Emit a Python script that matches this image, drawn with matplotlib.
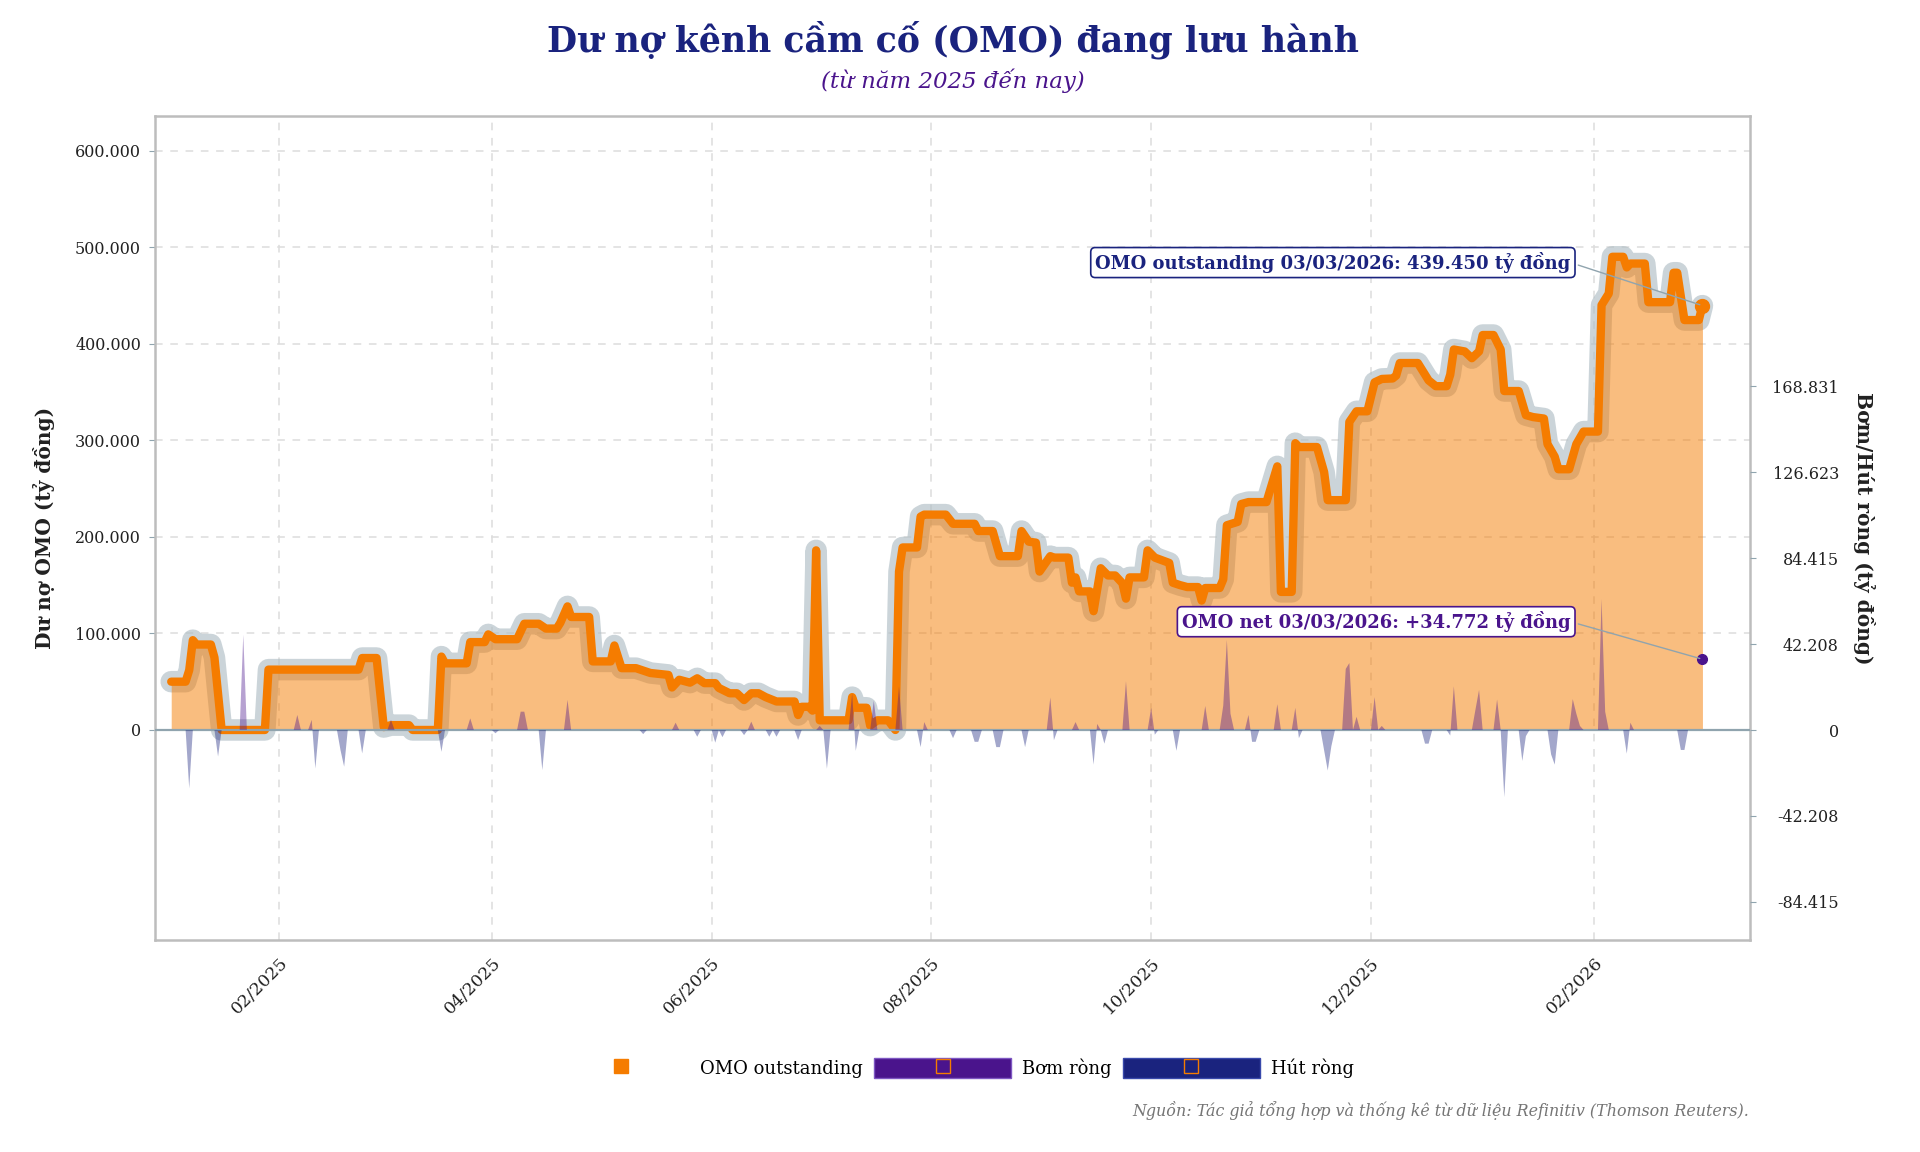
import numpy as np
import pandas as pd
import matplotlib
matplotlib.use("Agg")
import matplotlib.pyplot as plt
import matplotlib.dates as mdates
from matplotlib.lines import Line2D
from matplotlib.patches import Patch
from matplotlib.legend_handler import HandlerTuple

ORANGE = "#F57C00"
PURPLE = "#4A148C"
NAVY = "#1A237E"
HALO = "#B0BEC5"
AXIS_BLUE = "#90A4AE"

# OMO outstanding (ty dong), read at the turning points of the line
omo_dates = [
    "2025-01-02", "2025-01-06", "2025-01-07", "2025-01-08", "2025-01-09", "2025-01-13", "2025-01-14",
    "2025-01-16", "2025-01-28", "2025-01-29", "2025-02-23", "2025-02-24", "2025-02-28", "2025-03-02",
    "2025-03-04", "2025-03-09", "2025-03-10", "2025-03-17", "2025-03-18", "2025-03-19", "2025-03-25",
    "2025-03-26", "2025-03-30", "2025-03-31", "2025-04-02", "2025-04-08", "2025-04-10", "2025-04-14",
    "2025-04-16", "2025-04-19", "2025-04-20", "2025-04-22", "2025-04-23", "2025-04-28", "2025-04-29",
    "2025-05-04", "2025-05-05", "2025-05-07", "2025-05-11", "2025-05-15", "2025-05-20", "2025-05-21",
    "2025-05-23", "2025-05-26", "2025-05-28", "2025-05-30", "2025-06-02", "2025-06-03", "2025-06-06",
    "2025-06-08", "2025-06-10", "2025-06-12", "2025-06-14", "2025-06-16", "2025-06-19", "2025-06-24",
    "2025-06-25", "2025-06-26", "2025-06-28", "2025-06-29", "2025-06-30", "2025-07-01", "2025-07-09",
    "2025-07-10", "2025-07-11", "2025-07-14", "2025-07-15", "2025-07-17", "2025-07-20", "2025-07-22",
    "2025-07-23", "2025-07-24", "2025-07-28", "2025-07-29", "2025-07-30", "2025-08-05", "2025-08-07",
    "2025-08-13", "2025-08-14", "2025-08-18", "2025-08-20", "2025-08-25", "2025-08-26", "2025-08-28",
    "2025-08-30", "2025-08-31", "2025-09-03", "2025-09-04", "2025-09-08", "2025-09-09", "2025-09-10",
    "2025-09-11", "2025-09-14", "2025-09-15", "2025-09-17", "2025-09-19", "2025-09-21", "2025-09-23",
    "2025-09-24", "2025-09-25", "2025-09-29", "2025-09-30", "2025-10-02", "2025-10-06", "2025-10-07",
    "2025-10-09", "2025-10-11", "2025-10-14", "2025-10-15", "2025-10-16", "2025-10-20", "2025-10-21",
    "2025-10-22", "2025-10-25", "2025-10-26", "2025-10-28", "2025-11-02", "2025-11-05", "2025-11-06",
    "2025-11-09", "2025-11-10", "2025-11-11", "2025-11-16", "2025-11-18", "2025-11-19", "2025-11-24",
    "2025-11-25", "2025-11-27", "2025-11-30", "2025-12-02", "2025-12-04", "2025-12-07", "2025-12-08",
    "2025-12-09", "2025-12-14", "2025-12-17", "2025-12-19", "2025-12-22", "2025-12-23", "2025-12-24",
    "2025-12-27", "2025-12-29", "2025-12-31", "2026-01-01", "2026-01-04", "2026-01-06", "2026-01-07",
    "2026-01-11", "2026-01-13", "2026-01-15", "2026-01-18", "2026-01-19", "2026-01-21", "2026-01-22",
    "2026-01-25", "2026-01-27", "2026-01-29", "2026-02-02", "2026-02-03", "2026-02-05", "2026-02-06",
    "2026-02-09", "2026-02-10", "2026-02-11", "2026-02-15", "2026-02-16", "2026-02-22", "2026-02-23",
    "2026-02-24", "2026-02-26", "2026-03-02", "2026-03-03",
]
omo_values = [
    50000, 50000, 62000, 93000, 88500, 88500, 75000,
    0, 0, 62500, 62500, 74500, 74500, 3000,
    5000, 5000, 0, 0, 76000, 69000, 69000,
    91000, 91000, 99000, 94000, 94000, 110000, 110000,
    105000, 105000, 111000, 128000, 117000, 117000, 71000,
    71000, 87500, 64000, 64000, 59000, 57000, 44000,
    52000, 49000, 53500, 48500, 48500, 43500, 38000,
    38000, 31000, 38000, 38000, 34000, 29500, 29500,
    15500, 24000, 24000, 20000, 186000, 10000, 10000,
    34000, 23000, 23000, 4500, 10000, 10000, 0,
    164000, 189000, 189000, 221000, 223000, 223000, 213500,
    213500, 206000, 206000, 180000, 180000, 206000, 195000,
    194000, 164000, 180000, 178500, 178500, 152500, 158000,
    143500, 143500, 123000, 167500, 160000, 160000, 152000,
    136000, 158000, 158000, 186000, 178500, 173000, 152500,
    150000, 148000, 148000, 134000, 147000, 147000, 156000,
    212000, 215500, 234000, 236000, 236000, 273000, 143000,
    143000, 297000, 293000, 293000, 267000, 238000, 238000,
    319000, 330000, 330000, 360000, 363500, 364000, 367000,
    380000, 380000, 362000, 356000, 356000, 368000, 394000,
    392000, 385000, 392000, 409000, 409000, 394000, 351000,
    351000, 326000, 324000, 322500, 296000, 283000, 270000,
    270000, 296000, 309000, 309000, 440000, 452000, 490000,
    490000, 479000, 483000, 483000, 443000, 443000, 473500,
    473500, 424500, 424500, 439450,
]

# Net injection (+) / withdrawal (-) per day (ty dong); other days are 0
net_dates = [
    "2025-01-07", "2025-01-15", "2025-01-22", "2025-02-06", "2025-02-10", "2025-02-11", "2025-02-18",
    "2025-02-19", "2025-02-24", "2025-03-04", "2025-03-18", "2025-03-26", "2025-04-02", "2025-04-09",
    "2025-04-10", "2025-04-15", "2025-04-22", "2025-05-13", "2025-05-22", "2025-05-28", "2025-06-02",
    "2025-06-04", "2025-06-10", "2025-06-12", "2025-06-17", "2025-06-19", "2025-06-25", "2025-07-01",
    "2025-07-03", "2025-07-10", "2025-07-11", "2025-07-16", "2025-07-23", "2025-07-29", "2025-07-30",
    "2025-08-07", "2025-08-13", "2025-08-14", "2025-08-19", "2025-08-20", "2025-08-27", "2025-09-03",
    "2025-09-04", "2025-09-10", "2025-09-15", "2025-09-16", "2025-09-18", "2025-09-24", "2025-10-01",
    "2025-10-02", "2025-10-08", "2025-10-16", "2025-10-21", "2025-10-22", "2025-10-23", "2025-10-28",
    "2025-10-29", "2025-10-30", "2025-11-05", "2025-11-10", "2025-11-11", "2025-11-18", "2025-11-19",
    "2025-11-20", "2025-11-24", "2025-11-25", "2025-11-27", "2025-12-02", "2025-12-04", "2025-12-16",
    "2025-12-17", "2025-12-23", "2025-12-24", "2025-12-30", "2025-12-31", "2026-01-05", "2026-01-07",
    "2026-01-12", "2026-01-13", "2026-01-20", "2026-01-21", "2026-01-26", "2026-01-27", "2026-01-28",
    "2026-02-03", "2026-02-04", "2026-02-10", "2026-02-11", "2026-02-25", "2026-02-26", "2026-03-03",
]
net_values = [
    -28700, -13000, 46800, 7400, 5000, -18900, -10000,
    -18000, -11500, 5000, -10700, 5700, -1600, 9000,
    9000, -19700, 14800, -2000, 3600, -3300, -6200,
    -3500, -2500, 4100, -3300, -3300, -4900, 2000,
    -19000, 17900, -10200, 14400, 21400, -8400, 3900,
    -4000, -5800, -5800, -8400, -8400, -8400, 16000,
    -5000, 3900, -17000, 3000, -6700, 24000, 10900,
    -2300, -10200, 11800, 12000, 44300, 8000, 7400,
    -5800, -5800, 12700, 10900, -4000, -10000, -19900,
    -8000, 30000, 32900, 6500, 16200, 2000, -6700,
    -6700, -2700, 21500, 10000, 19700, 15000, -33000,
    -15200, -3000, -12000, -17000, 15200, 8000, 2000,
    64400, 9000, -11600, 3600, -9800, -9800, 34772,
]

left_ticks = [0, 100000, 200000, 300000, 400000, 500000, 600000]
right_ticks = [-84415, -42208, 0, 42208, 84415, 126623, 168831]
x_tick_dates = ["2025-02-01", "2025-04-01", "2025-06-01", "2025-08-01",
                "2025-10-01", "2025-12-01", "2026-02-01"]


def vn_number(v):
    return f"{v:,}".replace(",", ".")


plt.rcParams["font.family"] = ["DejaVu Serif"]

omo_x = pd.to_datetime(omo_dates)
omo_y = np.array(omo_values)

days = pd.date_range(omo_dates[0], omo_dates[-1], freq="D")
net = pd.Series(net_values, index=pd.to_datetime(net_dates)).reindex(days, fill_value=0)
net_area = net.iloc[:-1]  # last value shown only as a dot
last_x = mdates.date2num(days[-1])

fig = plt.figure(figsize=(19.2, 11.52), dpi=100)
ax = fig.add_axes([155 / 1920, 1 - 940 / 1152, 1595 / 1920, 824 / 1152])
ax2 = ax.twinx()

# outstanding: halo, area, line
ax.plot(omo_x, omo_y, color=HALO, lw=15.5, alpha=0.65, solid_joinstyle="round",
        solid_capstyle="round", zorder=2)
ax.fill_between(omo_x, 0, omo_y, color=ORANGE, alpha=0.5, lw=0, zorder=3)
ax.plot(omo_x, omo_y, color=ORANGE, lw=6, solid_joinstyle="round",
        solid_capstyle="round", zorder=4)
ax.plot(omo_x[-1], omo_y[-1], "o", color=ORANGE, ms=10, zorder=5)
ax.axhline(0, color=AXIS_BLUE, lw=1.6, zorder=4.5)

# net injection / withdrawal on right axis
nv = net_area.values
ax2.fill_between(net_area.index, 0, nv, where=nv >= 0, interpolate=True,
                 color=PURPLE, alpha=0.4, lw=0)
ax2.fill_between(net_area.index, 0, nv, where=nv <= 0, interpolate=True,
                 color=NAVY, alpha=0.4, lw=0)
ax2.plot(days[-1], net.iloc[-1], "o", color=PURPLE, ms=7, zorder=5)

# axes limits
x0 = mdates.date2num(pd.Timestamp("2025-01-01"))
ax.set_xlim(x0 - 3.5, x0 + 439.2)
ax.set_ylim(-217500, 635800)
ax2.set_ylim(-103150, 301600)

ax.set_xticks(pd.to_datetime(x_tick_dates))
ax.xaxis.set_major_formatter(mdates.DateFormatter("%m/%Y"))
ax.set_yticks(left_ticks)
ax.set_yticklabels([vn_number(v) for v in left_ticks])
ax2.set_yticks(right_ticks)
ax2.set_yticklabels([vn_number(v) for v in right_ticks])

ax.grid(True, ls=(0, (5, 5)), color="#DDDDDD", lw=1.1)
ax.set_axisbelow(True)

for side in ["left", "right", "top", "bottom"]:
    ax.spines[side].set_color("#BDBDBD")
    ax.spines[side].set_linewidth(1.8)
    ax2.spines[side].set_visible(False)

ax.tick_params(axis="y", length=4, color=AXIS_BLUE, labelsize=11.5, labelcolor="#212121", pad=6)
ax.tick_params(axis="x", length=0, labelsize=12.5, labelcolor="#212121", pad=10)
for lbl in ax.get_xticklabels():
    lbl.set_rotation(45)
    lbl.set_ha("right")
    lbl.set_rotation_mode("anchor")
ax2.tick_params(axis="y", length=4, color=AXIS_BLUE, labelsize=11.5, labelcolor="#212121", pad=60)
for lbl in ax2.get_yticklabels():
    lbl.set_ha("right")

ax.set_ylabel("Dư nợ OMO (tỷ đồng)", fontsize=14.5, fontweight="bold", color="#212121", va="center")
ax.yaxis.set_label_coords((44 - 155) / 1595, 0.5)
ax2.set_ylabel("Bơm/Hút ròng (tỷ đồng)", fontsize=14.5, fontweight="bold", color="#212121",
               rotation=270, va="center")
ax2.yaxis.set_label_coords((1864 - 155) / 1595, 0.5)

# labels for the latest values
ax2.annotate(f"OMO outstanding 03/03/2026: {vn_number(omo_values[-1])} tỷ đồng",
             xy=(last_x, omo_values[-1]), xycoords=ax.transData,
             xytext=(-95, 31), textcoords="offset points", ha="right", va="center",
             fontsize=13, fontweight="bold", color=NAVY,
             bbox=dict(boxstyle="round,pad=0.25", fc="white", ec=NAVY, lw=1.2),
             arrowprops=dict(arrowstyle="-", color=AXIS_BLUE, lw=1, relpos=(1, 0.5)),
             zorder=10)
ax2.annotate(f"OMO net 03/03/2026: +{vn_number(net_values[-1])} tỷ đồng",
             xy=(last_x, net_values[-1]), xycoords="data",
             xytext=(-95, 27), textcoords="offset points", ha="right", va="center",
             fontsize=13, fontweight="bold", color=PURPLE,
             bbox=dict(boxstyle="round,pad=0.25", fc="white", ec=PURPLE, lw=1.2),
             arrowprops=dict(arrowstyle="-", color=AXIS_BLUE, lw=1, relpos=(1, 0.5)),
             zorder=10)

# titles
fig.text(953 / 1920, 1 - 40 / 1152, "Dư nợ kênh cầm cố (OMO) đang lưu hành", ha="center",
         va="center", fontsize=25, fontweight="bold", color=NAVY)
fig.text(953 / 1920, 1 - 81 / 1152, "(từ năm 2025 đến nay)", ha="center", va="center",
         fontsize=16.5, style="italic", color=PURPLE)

# legend
sq = dict(marker="s", ls="none", ms=10, mfc="none", mec=ORANGE, mew=1)
handles = [
    Line2D([], [], marker="s", ls="none", color=ORANGE, ms=10),
    (Patch(fc=PURPLE, ec="#7E57C2", lw=1), Line2D([], [], **sq)),
    (Patch(fc=NAVY, ec="#3949AB", lw=1), Line2D([], [], **sq)),
]
fig.legend(handles, ["OMO outstanding", "Bơm ròng", "Hút ròng"],
           handler_map={tuple: HandlerTuple(ndivide=1, pad=0)},
           loc="center", bbox_to_anchor=(953 / 1920, 1 - 1068 / 1152), ncol=3,
           frameon=False, fontsize=13, handlelength=7.6, handleheight=1.3,
           handletextpad=0.6, columnspacing=0.6)

fig.text(1749 / 1920, 1 - 1111 / 1152,
         "Nguồn: Tác giả tổng hợp và thống kê từ dữ liệu Refinitiv (Thomson Reuters).",
         ha="right", va="center", fontsize=11.4, style="italic", color="#757575")

fig.savefig("out.png", dpi=100, facecolor="white")
